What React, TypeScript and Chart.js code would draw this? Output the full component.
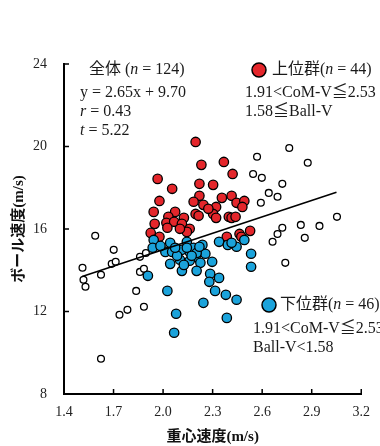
import React, { useEffect, useRef } from "react";
import { Chart, registerables } from "chart.js";

Chart.register(...registerables);

// ---- Data ----
const xTickValues = [1.4, 1.7, 2.0, 2.3, 2.6, 2.9, 3.2];
const yTickValues = [8, 12, 16, 20, 24];

// upper group (red, n = 44)
const upperX = [2.197, 2.232, 2.368, 1.967, 2.421, 2.055, 2.22, 2.303, 2.22, 2.356, 2.415, 2.185, 2.244, 1.978, 2.321, 2.445, 2.492, 2.48, 1.943, 2.073, 2.197, 2.215, 2.303, 2.032, 2.126, 2.321, 2.398, 2.415, 2.439, 1.949, 2.02, 2.067, 2.114, 2.161, 2.527, 2.463, 2.474, 2.386, 1.925, 1.978, 2.144, 2.026, 2.102, 2.274];
const upperY = [20.22, 19.11, 19.25, 18.43, 18.67, 17.95, 18.19, 18.14, 17.61, 17.51, 17.61, 17.32, 17.17, 17.36, 17.07, 17.27, 17.36, 17.07, 16.83, 16.83, 16.73, 16.64, 16.73, 16.59, 16.54, 16.54, 16.59, 16.54, 16.59, 16.25, 16.3, 16.35, 16.25, 16.01, 15.91, 15.76, 15.62, 15.62, 15.81, 15.62, 15.86, 16.06, 16.01, 16.98];

// lower group (blue, n = 46)
const lowerX = [1.943, 1.937, 2.043, 2.014, 2.055, 2.144, 2.161, 2.185, 2.238, 2.256, 2.197, 2.161, 2.102, 2.043, 2.226, 2.114, 2.203, 2.285, 2.28, 1.908, 2.026, 2.244, 2.079, 2.067, 2.315, 2.114, 2.339, 2.392, 2.445, 2.492, 2.533, 2.533, 2.339, 2.38, 2.445, 2.386, 2.203, 2.144, 2.173, 2.085, 1.984, 2.126, 2.297, 2.22, 2.073, 2.415];
const lowerY = [15.47, 15.09, 15.33, 14.89, 14.89, 15.38, 14.89, 15.09, 15.23, 14.8, 14.65, 14.46, 14.51, 14.31, 14.36, 13.97, 13.97, 13.83, 13.44, 13.73, 13.0, 12.42, 11.89, 10.97, 13.0, 14.99, 15.38, 15.23, 15.14, 15.47, 14.8, 14.17, 13.63, 12.81, 12.57, 11.69, 14.84, 15.09, 14.7, 14.7, 15.18, 14.26, 14.41, 15.14, 15.09, 15.33];

// others (open circles)
const otherX = [1.589, 1.701, 1.512, 1.518, 1.53, 1.624, 1.689, 1.713, 1.86, 1.896, 1.86, 1.884, 1.837, 1.784, 1.736, 1.884, 1.624, 2.764, 2.569, 2.876, 2.545, 2.598, 2.722, 2.64, 2.693, 2.592, 3.053, 2.834, 2.947, 2.722, 2.693, 2.858, 2.663, 2.74];
const otherY = [15.67, 14.99, 14.12, 13.54, 13.2, 13.78, 14.31, 14.41, 14.65, 14.84, 13.92, 14.07, 13.0, 12.08, 11.84, 12.23, 9.71, 19.93, 19.5, 19.21, 18.67, 18.48, 18.19, 17.75, 17.56, 17.27, 16.59, 16.2, 16.15, 16.06, 15.76, 15.57, 15.38, 14.36];

// regression line end points (y = 2.65x + 9.70)
const lineX = [1.51, 3.05];
const lineY = [13.7, 17.78];

const RED = "#E4262B";
const BLUE = "#1BA3DB";
const TEXT = "#1a1a1a";
const FAMILY = '"Liberation Serif", "DejaVu Serif", "Noto Sans CJK JP", serif';

const pts = (xs: number[], ys: number[]) => xs.map((x, i) => ({ x, y: ys[i] }));

type Run = [string, boolean?];

function drawRuns(ctx: CanvasRenderingContext2D, x: number, y: number, runs: Run[], size = 16) {
  let cx = x;
  for (const [t, it] of runs) {
    ctx.font = `${it ? "italic " : ""}${size}px ${FAMILY}`;
    ctx.fillText(t, cx, y);
    cx += ctx.measureText(t).width;
  }
}

function marker(ctx: CanvasRenderingContext2D, x: number, y: number, color: string) {
  ctx.beginPath();
  ctx.arc(x, y, 7, 0, Math.PI * 2);
  ctx.fillStyle = color;
  ctx.fill();
  ctx.lineWidth = 1.5;
  ctx.strokeStyle = "#000";
  ctx.stroke();
}

const annotPlugin = {
  id: "annot",
  afterDraw(chart: any) {
    const ctx: CanvasRenderingContext2D = chart.ctx;
    const xs = chart.scales.x;
    const ys = chart.scales.y;
    const area = chart.chartArea;
    ctx.save();
    // inward tick marks
    ctx.strokeStyle = "#000";
    ctx.lineWidth = 1.5;
    ctx.beginPath();
    xTickValues.forEach((v) => {
      const px = xs.getPixelForValue(v);
      ctx.moveTo(px, area.bottom);
      ctx.lineTo(px, area.bottom - 5);
    });
    yTickValues.forEach((v) => {
      const py = ys.getPixelForValue(v);
      ctx.moveTo(area.left, py);
      ctx.lineTo(area.left + 5, py);
    });
    ctx.stroke();

    // annotations
    const L = area.left;
    const T = area.top;
    ctx.textBaseline = "middle";
    ctx.textAlign = "left";
    ctx.fillStyle = TEXT;
    drawRuns(ctx, L + 25, T + 6, [["全体 ("], ["n", true], [" = 124)"]]);
    drawRuns(ctx, L + 16, T + 29, [["y = 2.65x + 9.70"]]);
    drawRuns(ctx, L + 16, T + 48, [["r", true], [" = 0.43"]]);
    drawRuns(ctx, L + 16, T + 67, [["t", true], [" = 5.22"]]);

    marker(ctx, L + 195, T + 6, RED);
    ctx.fillStyle = TEXT;
    drawRuns(ctx, L + 208, T + 6, [["上位群("], ["n", true], [" = 44)"]]);
    drawRuns(ctx, L + 181, T + 29, [["1.91<CoM-V≦2.53"]]);
    drawRuns(ctx, L + 181, T + 48, [["1.58≦Ball-V"]]);

    marker(ctx, L + 205, T + 241, BLUE);
    ctx.fillStyle = TEXT;
    drawRuns(ctx, L + 216, T + 241, [["下位群("], ["n", true], [" = 46)"]]);
    drawRuns(ctx, L + 189, T + 265, [["1.91<CoM-V≦2.53"]]);
    drawRuns(ctx, L + 189, T + 284, [["Ball-V<1.58"]]);
    ctx.restore();
  },
};

export default function App() {
  const ref = useRef<HTMLCanvasElement | null>(null);

  useEffect(() => {
    if (!ref.current) return;
    const chart = new Chart(ref.current, {
      type: "scatter",
      data: {
        datasets: [
          {
            data: pts(lineX, lineY),
            showLine: true,
            borderColor: "#000",
            borderWidth: 1.6,
            pointRadius: 0,
            fill: false,
          },
          {
            data: pts(lowerX, lowerY),
            backgroundColor: BLUE,
            borderColor: "#000",
            borderWidth: 1.3,
            pointRadius: 4.7,
          },
          {
            data: pts(upperX, upperY),
            backgroundColor: RED,
            borderColor: "#000",
            borderWidth: 1.3,
            pointRadius: 4.7,
          },
          {
            data: pts(otherX, otherY),
            backgroundColor: "#fff",
            borderColor: "#000",
            borderWidth: 1.3,
            pointRadius: 3.4,
          },
        ],
      },
      options: {
        responsive: false,
        animation: false,
        devicePixelRatio: 1,
        events: [],
        layout: { padding: { left: 0, top: 64, right: 11, bottom: 0 } },
        plugins: { legend: { display: false }, tooltip: { enabled: false } },
        scales: {
          x: {
            type: "linear",
            min: 1.4,
            max: 3.2,
            afterBuildTicks: (s: any) => {
              s.ticks = xTickValues.map((v) => ({ value: v }));
            },
            afterFit: (s: any) => {
              s.height = 52;
            },
            grid: { display: false, drawTicks: false, tickLength: 0 },
            border: { display: true, color: "#000", width: 2 },
            ticks: {
              padding: 10,
              color: "#222",
              autoSkip: false,
              maxRotation: 0,
              font: { family: FAMILY, size: 14 },
              callback: (v: any) => Number(v).toFixed(1),
            },
            title: {
              display: true,
              text: "重心速度(m/s)",
              color: "#111",
              font: { family: FAMILY, size: 15, weight: "bold" },
              padding: { top: 0, bottom: 0 },
            },
          },
          y: {
            type: "linear",
            min: 8,
            max: 24,
            afterBuildTicks: (s: any) => {
              s.ticks = yTickValues.map((v) => ({ value: v }));
            },
            afterFit: (s: any) => {
              s.width = 64;
            },
            grid: { display: false, drawTicks: false, tickLength: 0 },
            border: { display: true, color: "#000", width: 2 },
            ticks: {
              padding: 17,
              color: "#222",
              autoSkip: false,
              font: { family: FAMILY, size: 14 },
              callback: (v: any) => String(v),
            },
            title: {
              display: true,
              text: "ボール速度(m/s)",
              color: "#111",
              font: { family: FAMILY, size: 15, weight: "bold" },
              padding: { top: 10, bottom: 0 },
            },
          },
        },
      } as any,
      plugins: [annotPlugin],
    });
    return () => chart.destroy();
  }, []);

  return (
    <div style={{ position: "absolute", left: 0, top: 0, width: 380, height: 446 }}>
      <canvas ref={ref} width={380} height={446} style={{ display: "block", width: 380, height: 446 }} />
    </div>
  );
}
